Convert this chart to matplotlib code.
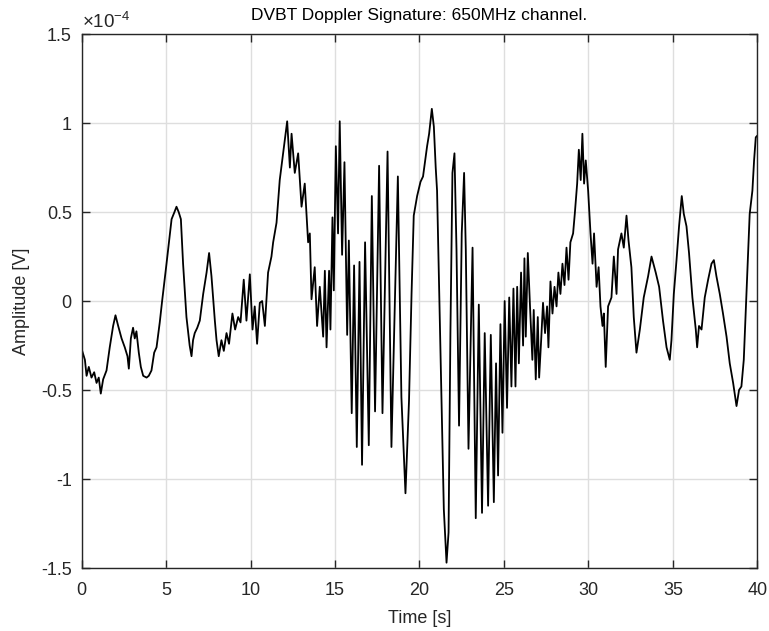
import numpy as np
import matplotlib

matplotlib.use("Agg")
import matplotlib.pyplot as plt

plt.rcParams["font.family"] = ["Liberation Sans", "DejaVu Sans"]
plt.rcParams["mathtext.fontset"] = "custom"
plt.rcParams["mathtext.rm"] = "Liberation Sans"

# values, amplitude in units of 1e-4 V
# 0 - 10 s
t_a = [0.00, 0.04, 0.20, 0.30, 0.43, 0.59, 0.75, 0.89, 1.02, 1.14, 1.28, 1.48,
       1.67, 1.87, 2.01, 2.17, 2.37, 2.56, 2.72, 2.80, 2.92, 3.05, 3.15, 3.25,
       3.39, 3.51, 3.65, 3.85, 3.98, 4.14, 4.30, 4.44, 4.63, 4.77, 5.03, 5.33,
       5.50, 5.62, 5.75, 5.88, 6.01, 6.21, 6.40, 6.51, 6.60, 6.70, 6.85, 7.00,
       7.20, 7.40, 7.55, 7.69, 7.89, 7.99, 8.12, 8.28, 8.42, 8.58, 8.73, 8.93,
       9.09, 9.27, 9.41, 9.60, 9.76, 9.96]
v_a = [-0.26, -0.28, -0.33, -0.42, -0.37, -0.43, -0.40, -0.46, -0.43, -0.52, -0.44, -0.39,
       -0.26, -0.14, -0.08, -0.14, -0.21, -0.26, -0.31, -0.38, -0.21, -0.15, -0.21, -0.17,
       -0.29, -0.37, -0.42, -0.43, -0.42, -0.39, -0.29, -0.26, -0.12, 0.00, 0.21, 0.46,
       0.50, 0.53, 0.50, 0.46, 0.21, -0.09, -0.25, -0.31, -0.22, -0.18, -0.15, -0.11,
       0.04, 0.16, 0.27, 0.14, -0.11, -0.22, -0.31, -0.22, -0.28, -0.18, -0.24, -0.07,
       -0.16, -0.09, -0.12, 0.12, -0.11, 0.15]

# 10 - 20 s
t_b = [10.12, 10.25, 10.39, 10.55, 10.69, 10.85, 11.04, 11.24, 11.34, 11.54, 11.73,
       11.93, 12.17, 12.33, 12.43, 12.62, 12.82, 13.02, 13.21, 13.41, 13.51, 13.61,
       13.80, 13.94, 14.10, 14.30, 14.40, 14.50, 14.65, 14.73, 14.85, 14.93, 15.05,
       15.18, 15.28, 15.42, 15.56, 15.72, 15.82, 15.99, 16.13, 16.29, 16.45, 16.60,
       16.78, 17.00, 17.18, 17.37, 17.61, 17.81, 18.11, 18.34, 18.72, 18.93, 19.17,
       19.38, 19.53, 19.66, 19.86]
v_b = [-0.16, -0.03, -0.24, -0.01, 0.00, -0.14, 0.16, 0.25, 0.33, 0.44, 0.68,
       0.83, 1.01, 0.75, 0.94, 0.72, 0.83, 0.53, 0.66, 0.33, 0.38, 0.01,
       0.19, -0.14, 0.08, -0.20, 0.17, -0.26, 0.17, -0.16, 0.47, 0.06, 0.87,
       0.38, 1.01, 0.26, 0.78, -0.19, 0.34, -0.63, 0.20, -0.82, 0.22, -0.92,
       0.33, -0.81, 0.59, -0.62, 0.76, -0.63, 0.84, -0.82, 0.70, -0.54, -1.08,
       -0.56, 0.04, 0.48, 0.59]

# 20 - 30 s
t_c = [20.06, 20.21, 20.45, 20.57, 20.73, 20.85, 20.96, 21.04, 21.26, 21.44, 21.60,
       21.72, 21.83, 21.95, 22.07, 22.19, 22.34, 22.50, 22.64, 22.74, 22.90, 23.14,
       23.33, 23.51, 23.70, 23.86, 24.06, 24.22, 24.40, 24.53, 24.65, 24.79, 24.91,
       25.04, 25.18, 25.31, 25.44, 25.56, 25.68, 25.78, 25.88, 26.01, 26.13, 26.21,
       26.29, 26.41, 26.54, 26.68, 26.76, 26.88, 27.00, 27.08, 27.20, 27.31, 27.43,
       27.55, 27.63, 27.75, 27.87, 27.99, 28.11, 28.22, 28.34, 28.46, 28.58, 28.70,
       28.82, 28.93, 29.09, 29.19, 29.33, 29.43, 29.54, 29.64, 29.74, 29.84, 29.98]
v_c = [0.67, 0.70, 0.87, 0.94, 1.08, 0.98, 0.75, 0.62, -0.37, -1.17, -1.47,
       -1.30, -0.18, 0.72, 0.83, 0.29, -0.70, 0.38, 0.72, 0.29, -0.83, 0.30,
       -1.22, -0.02, -1.19, -0.18, -1.15, -0.19, -1.13, -0.35, -0.98, -0.13, -0.74,
       0.00, -0.60, 0.02, -0.48, 0.07, -0.48, 0.08, -0.35, 0.16, -0.25, 0.24,
       -0.20, 0.27, -0.03, -0.33, -0.05, -0.44, -0.09, -0.43, -0.22, -0.01, -0.18,
       -0.03, -0.26, 0.11, -0.07, 0.08, -0.03, 0.16, 0.04, 0.21, 0.09, 0.30,
       0.12, 0.33, 0.38, 0.49, 0.66, 0.85, 0.68, 0.94, 0.66, 0.79, 0.62]

# 30 - 40 s
t_d = [30.12, 30.24, 30.33, 30.48, 30.60, 30.71, 30.83, 30.91, 31.02, 31.16, 31.36,
       31.50, 31.66, 31.75, 31.95, 32.09, 32.25, 32.37, 32.54, 32.68, 32.84, 33.04,
       33.27, 33.53, 33.73, 33.98, 34.18, 34.41, 34.62, 34.81, 34.91, 35.05, 35.21,
       35.36, 35.52, 35.64, 35.80, 35.95, 36.15, 36.35, 36.43, 36.54, 36.69, 36.88,
       37.08, 37.28, 37.42, 37.57, 37.77, 37.96, 38.17, 38.36, 38.56, 38.76, 38.91,
       39.05, 39.19, 39.35, 39.54, 39.70, 39.80, 39.90, 40.00]
v_d = [0.38, 0.21, 0.38, 0.08, 0.19, -0.03, -0.14, -0.07, -0.37, -0.03, 0.02,
       0.25, 0.04, 0.29, 0.38, 0.30, 0.48, 0.34, 0.19, -0.09, -0.29, -0.16,
       0.02, 0.14, 0.25, 0.16, 0.08, -0.11, -0.26, -0.33, -0.22, 0.04, 0.23,
       0.42, 0.59, 0.49, 0.42, 0.27, 0.02, -0.16, -0.26, -0.14, -0.16, 0.02,
       0.12, 0.21, 0.23, 0.14, 0.04, -0.07, -0.20, -0.35, -0.46, -0.59, -0.50,
       -0.48, -0.33, 0.04, 0.49, 0.62, 0.79, 0.92, 0.93]

time_s = np.array(t_a + t_b + t_c + t_d)
amp = np.array(v_a + v_b + v_c + v_d) * 1e-4

fig = plt.figure(figsize=(7.69, 6.31), dpi=100)
ax = fig.add_axes([0.106, 0.0998, 0.879, 0.8462])

ax.plot(time_s, amp, color="black", linewidth=1.3)

ax.set_xlim(0, 40)
ax.set_ylim(-1.5e-4, 1.5e-4)
ax.set_xticks(np.arange(0, 41, 5))
yt = np.arange(-1.5, 1.51, 0.5)
ax.set_yticks(yt * 1e-4)
ax.set_yticklabels(["-1.5", "-1", "-0.5", "0", "0.5", "1", "1.5"])

ax.grid(True, color="#dedede", linewidth=1)
ax.set_axisbelow(True)
ax.tick_params(direction="in", length=6, width=1, top=True, right=True,
               labelsize=13, colors="#262626")
ax.tick_params(axis="x", pad=10)
ax.tick_params(axis="y", pad=7)
for sp in ax.spines.values():
    sp.set_color("#262626")
    sp.set_linewidth(1)

ax.set_xlabel("Time [s]", fontsize=13, color="#262626", labelpad=8)
ax.set_ylabel("Amplitude [V]", fontsize=13, color="#262626", labelpad=8)
ax.set_title("DVBT Doppler Signature: 650MHz channel.", fontsize=12.5, pad=10)
ax.text(0.0, 1.004, r"$\times10^{-4}$", transform=ax.transAxes,
        fontsize=13.5, color="#262626", ha="left", va="bottom")

fig.savefig("out.png", dpi=100)
